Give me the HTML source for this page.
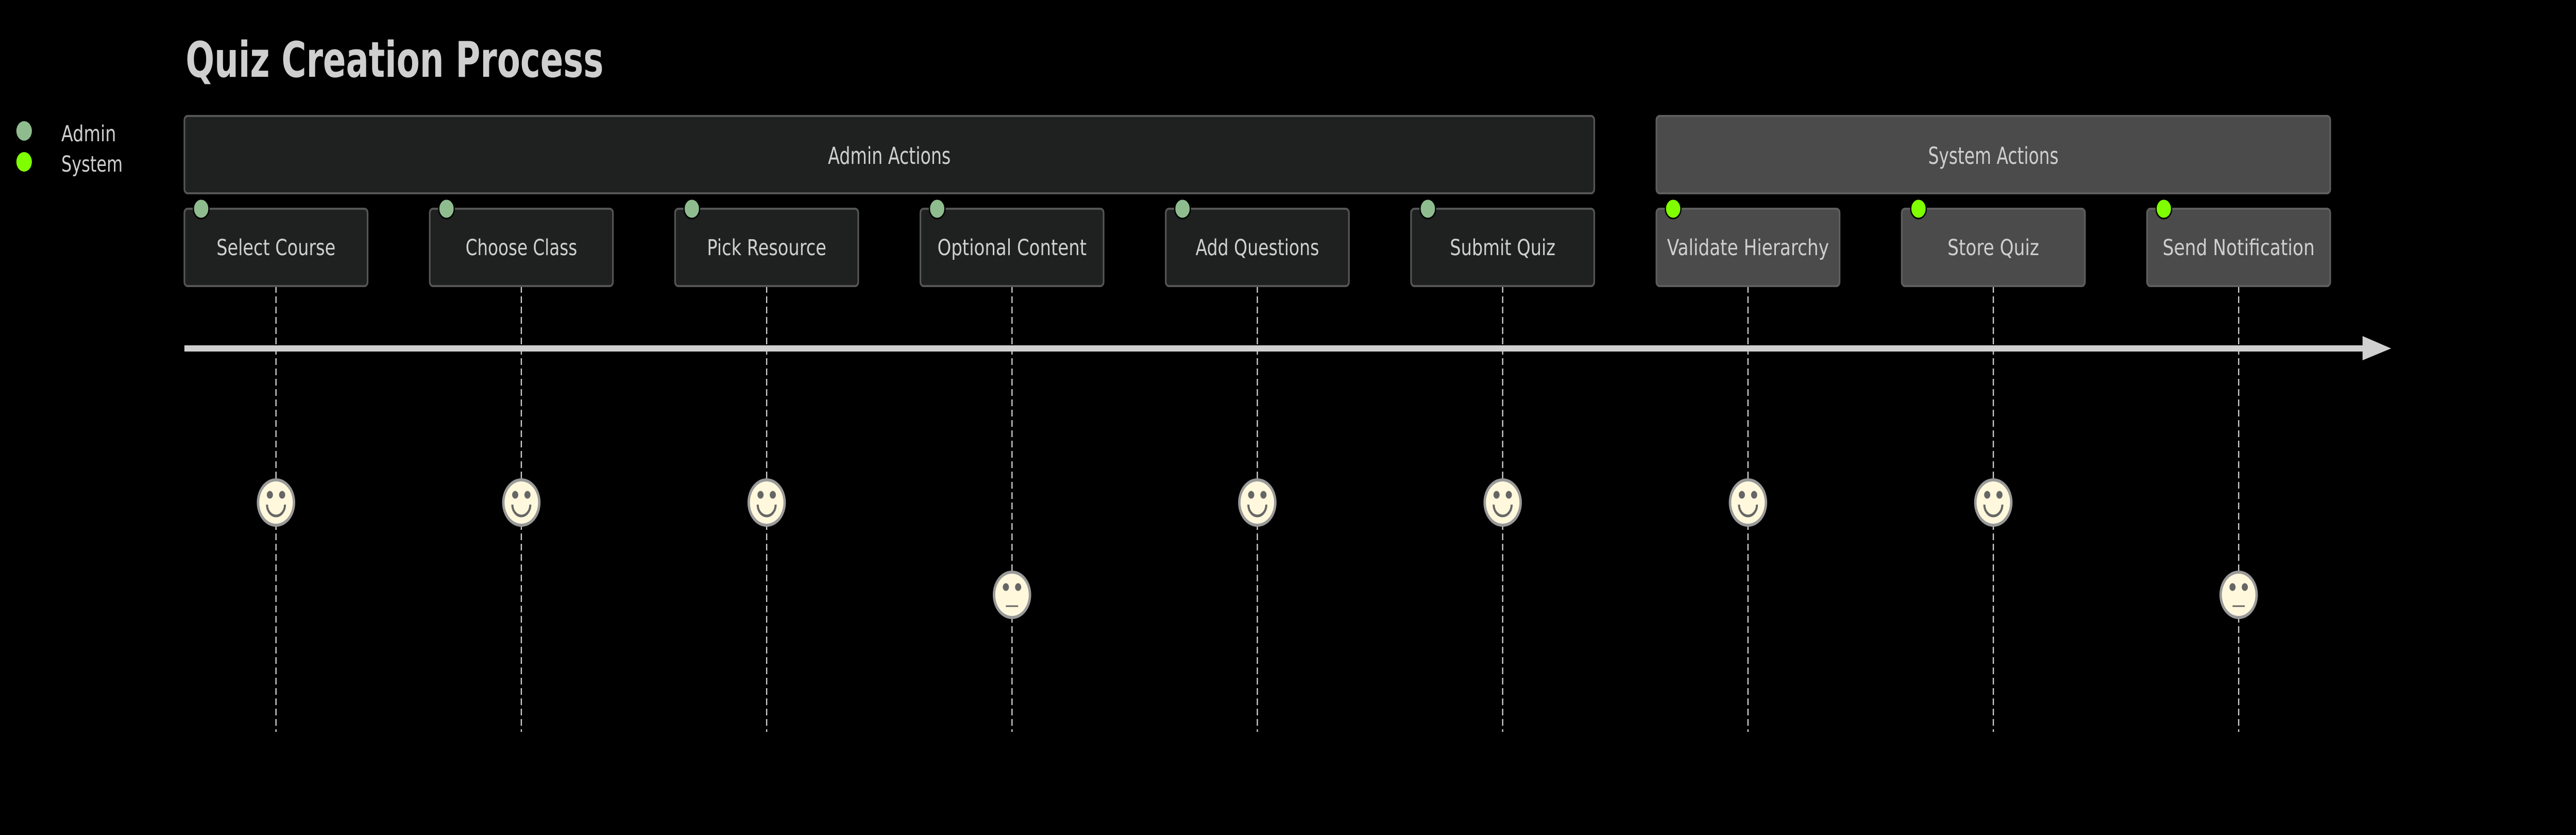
<!DOCTYPE html>
<html><head><meta charset="utf-8"><style>
html,body{margin:0;padding:0;background:#000;width:100%;height:100%;overflow:hidden;}
svg{display:block;width:100vw;height:100vh;}
text{font-family:"DejaVu Sans","Liberation Sans",sans-serif;fill:#cfcfcf;}
</style></head><body>
<svg viewBox="0 0 6300 1620" preserveAspectRatio="none" xmlns="http://www.w3.org/2000/svg">
<rect width="6300" height="1620" fill="#000"/>
<text x="454" y="149" font-size="95" font-weight="bold" textLength="1022" lengthAdjust="spacingAndGlyphs">Quiz Creation Process</text>
<circle cx="59" cy="254" r="19" fill="#8fbc8f"/>
<circle cx="59" cy="314" r="19" fill="#7fff00"/>
<text x="150" y="274" font-size="43" textLength="134" lengthAdjust="spacingAndGlyphs">Admin</text>
<text x="150" y="333" font-size="43" textLength="150" lengthAdjust="spacingAndGlyphs">System</text>
<rect x="451" y="225" width="3448" height="150" rx="8" fill="#1f2020" stroke="#555" stroke-width="4"/>
<text x="2175" y="318" font-size="45" text-anchor="middle" textLength="300" lengthAdjust="spacingAndGlyphs">Admin Actions</text>
<rect x="4051" y="225" width="1648" height="150" rx="8" fill="#4a4b4a" stroke="#5e5e5e" stroke-width="4"/>
<text x="4875" y="318" font-size="45" text-anchor="middle" textLength="319" lengthAdjust="spacingAndGlyphs">System Actions</text>
<g stroke="#cfcfcf" stroke-width="3" stroke-dasharray="13 7">
<line x1="675" y1="555" x2="675" y2="1420"/><line x1="1275" y1="555" x2="1275" y2="1420"/><line x1="1875" y1="555" x2="1875" y2="1420"/><line x1="2475" y1="555" x2="2475" y2="1420"/><line x1="3075" y1="555" x2="3075" y2="1420"/><line x1="3675" y1="555" x2="3675" y2="1420"/><line x1="4275" y1="555" x2="4275" y2="1420"/><line x1="4875" y1="555" x2="4875" y2="1420"/><line x1="5475" y1="555" x2="5475" y2="1420"/>
</g>
<g stroke="#555" stroke-width="4">
<rect x="451" y="405" width="448" height="150" rx="8" fill="#1f2020"/>
<rect x="1051" y="405" width="448" height="150" rx="8" fill="#1f2020"/>
<rect x="1651" y="405" width="448" height="150" rx="8" fill="#1f2020"/>
<rect x="2251" y="405" width="448" height="150" rx="8" fill="#1f2020"/>
<rect x="2851" y="405" width="448" height="150" rx="8" fill="#1f2020"/>
<rect x="3451" y="405" width="448" height="150" rx="8" fill="#1f2020"/>
<rect x="4051" y="405" width="448" height="150" rx="8" fill="#4a4b4a" stroke="#5e5e5e"/>
<rect x="4651" y="405" width="448" height="150" rx="8" fill="#4a4b4a" stroke="#5e5e5e"/>
<rect x="5251" y="405" width="448" height="150" rx="8" fill="#4a4b4a" stroke="#5e5e5e"/>
</g>
<g stroke="#000" stroke-width="3">
<circle cx="492" cy="405" r="19" fill="#8fbc8f"/><circle cx="1092" cy="405" r="19" fill="#8fbc8f"/><circle cx="1692" cy="405" r="19" fill="#8fbc8f"/><circle cx="2292" cy="405" r="19" fill="#8fbc8f"/><circle cx="2892" cy="405" r="19" fill="#8fbc8f"/><circle cx="3492" cy="405" r="19" fill="#8fbc8f"/>
<circle cx="4092" cy="405" r="19" fill="#7fff00"/><circle cx="4692" cy="405" r="19" fill="#7fff00"/><circle cx="5292" cy="405" r="19" fill="#7fff00"/>
</g>
<g font-size="43" text-anchor="middle">
<text x="675" y="495" textLength="291" lengthAdjust="spacingAndGlyphs">Select Course</text>
<text x="1275" y="495" textLength="273" lengthAdjust="spacingAndGlyphs">Choose Class</text>
<text x="1875" y="495" textLength="292" lengthAdjust="spacingAndGlyphs">Pick Resource</text>
<text x="2475" y="495" textLength="365" lengthAdjust="spacingAndGlyphs">Optional Content</text>
<text x="3075" y="495" textLength="302" lengthAdjust="spacingAndGlyphs">Add Questions</text>
<text x="3675" y="495" textLength="258" lengthAdjust="spacingAndGlyphs">Submit Quiz</text>
<text x="4275" y="495" textLength="396" lengthAdjust="spacingAndGlyphs">Validate Hierarchy</text>
<text x="4875" y="495" textLength="224" lengthAdjust="spacingAndGlyphs">Store Quiz</text>
<text x="5475" y="495" textLength="372" lengthAdjust="spacingAndGlyphs">Send Notification</text>
</g>
<rect x="451" y="670" width="5330" height="12" fill="#d0d0d0"/>
<polygon points="5778,652 5848,676 5778,699" fill="#d0d0d0"/>
<defs>
<g id="happy"><circle r="44" fill="#fff8dc" stroke="#999" stroke-width="6"/><circle cx="-15" cy="-15" r="7.5" fill="#666"/><circle cx="15" cy="-15" r="7.5" fill="#666"/><path d="M-22,4 A22,22 0 0 0 22,4" fill="none" stroke="#666" stroke-width="5"/></g>
<g id="meh"><circle r="44" fill="#fff8dc" stroke="#999" stroke-width="6"/><circle cx="-15" cy="-15" r="7.5" fill="#666"/><circle cx="15" cy="-15" r="7.5" fill="#666"/><line x1="-15" y1="22" x2="15" y2="22" stroke="#666" stroke-width="3"/></g>
</defs>
<use href="#happy" x="675" y="975"/><use href="#happy" x="1275" y="975"/><use href="#happy" x="1875" y="975"/><use href="#meh" x="2475" y="1154"/><use href="#happy" x="3075" y="975"/><use href="#happy" x="3675" y="975"/><use href="#happy" x="4275" y="975"/><use href="#happy" x="4875" y="975"/><use href="#meh" x="5475" y="1154"/>
</svg>
</body></html>
